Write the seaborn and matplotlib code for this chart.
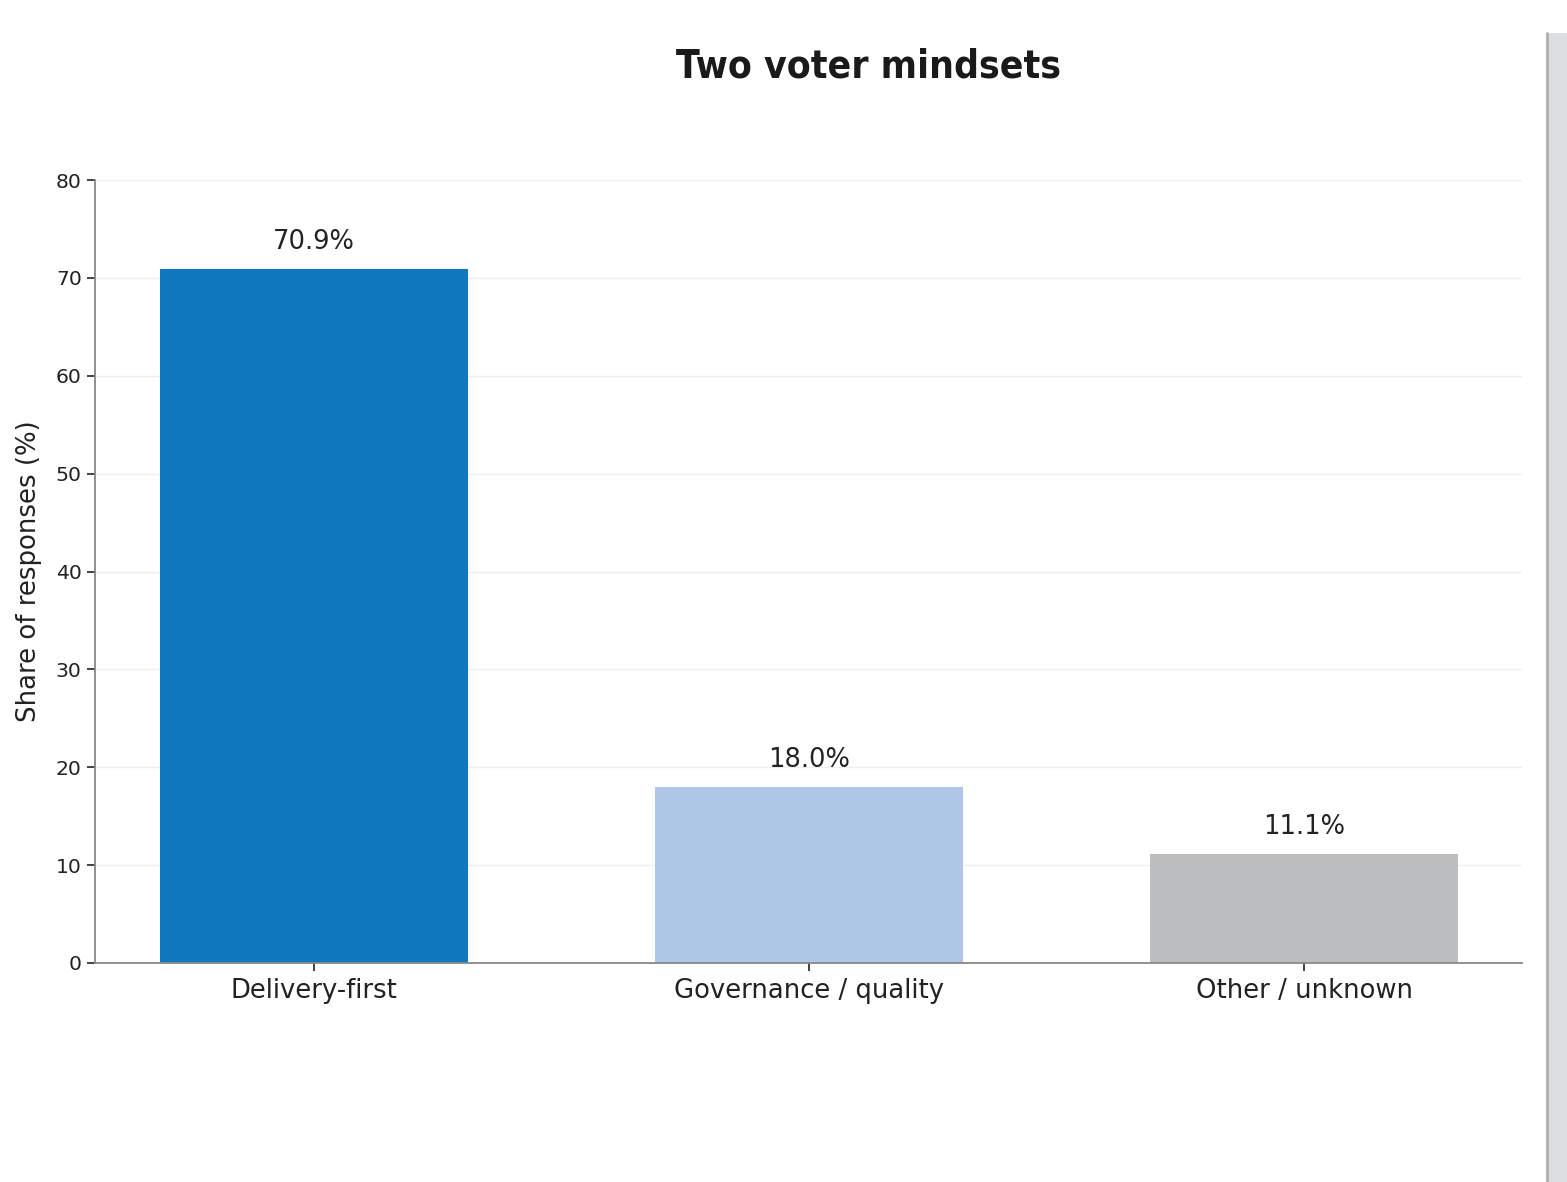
import pandas as pd
import numpy as np
import seaborn as sns
import matplotlib.pyplot as plt
from matplotlib.patches import Rectangle

# data
categories = ['Delivery-first', 'Governance / quality', 'Other / unknown']
shares = [70.9, 18.0, 11.1]
bar_colors = ['#1078be', '#aec7e6', '#bcbdbf']
y_ticks = [0, 10, 20, 30, 40, 50, 60, 70, 80]

df = pd.DataFrame({'mindset': categories, 'share': shares})

sns.set_theme(style='white')
plt.rcParams['font.family'] = ['DejaVu Sans']

fig = plt.figure(figsize=(15.67, 11.82), dpi=100)
ax = fig.add_axes([95 / 1567, 1 - 963 / 1182, (1522 - 95) / 1567, (963 - 180) / 1182])

sns.barplot(data=df, x='mindset', y='share', hue='mindset', palette=bar_colors,
            width=0.622, saturation=1, legend=False, linewidth=0, ax=ax, zorder=2)

# value labels above bars
for i, v in enumerate(shares):
    ax.annotate('{:.1f}%'.format(v), xy=(i, v), xytext=(0, 10), textcoords='offset points',
                ha='center', va='bottom', fontsize=18.5, color='#222222')

ax.set_ylim(0, 80)
ax.set_xlim(-0.442, 2.44)
ax.set_yticks(y_ticks)
ax.yaxis.grid(True, color='#eeeeee', linewidth=1, zorder=0)
ax.set_axisbelow(True)

ax.set_xlabel('')
ax.set_ylabel('Share of responses (%)', fontsize=18.7, color='#222222', labelpad=10)
ax.tick_params(axis='y', labelsize=14.7, colors='#222222', length=6, width=1.2, left=True)
ax.tick_params(axis='x', labelsize=18.6, colors='#222222', length=6, width=1.2, bottom=True, pad=5)

sns.despine(ax=ax)
for side in ['left', 'bottom']:
    ax.spines[side].set_color('#888888')
    ax.spines[side].set_linewidth(1.3)

fig.text(869 / 1567, 1 - 66 / 1182, 'Two voter mindsets', ha='center', va='center',
         fontsize=28, fontweight='bold', fontstretch='condensed', family=['DejaVu Sans'],
         color='#1a1a1a')

# grey strip at the right edge of the screenshot
fig.patches.append(Rectangle((1546 / 1567, 0), 21 / 1567, 1 - 33 / 1182, transform=fig.transFigure,
                             facecolor='#dcdddf', edgecolor='none', zorder=0))
fig.lines.append(plt.Line2D([1547 / 1567, 1547 / 1567], [0, 1 - 33 / 1182], transform=fig.transFigure,
                            color='#b0b0b0', linewidth=2))

plt.savefig('out.png', dpi=100, facecolor='w')
